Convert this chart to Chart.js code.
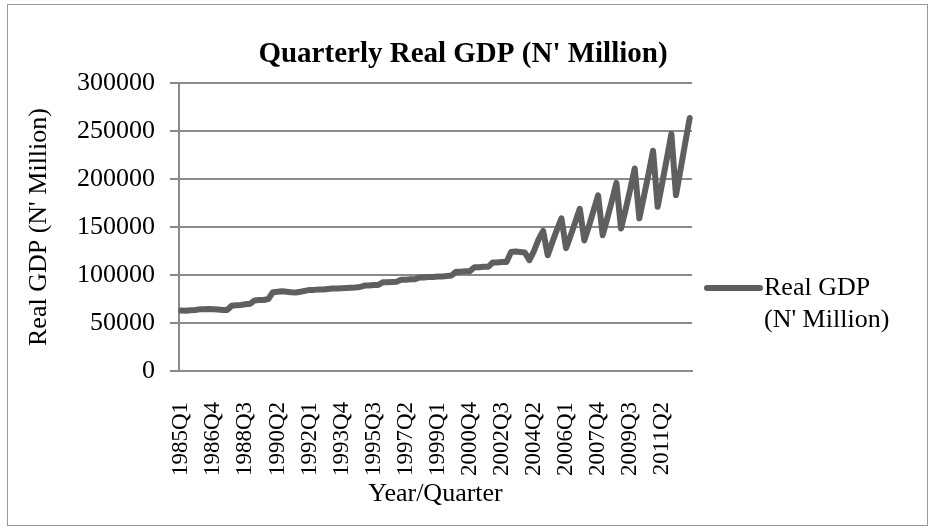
<!DOCTYPE html>
<html>
<head>
<meta charset="utf-8">
<script src="https://cdn.jsdelivr.net/npm/chart.js@4.4.0/dist/chart.umd.min.js"></script>
<style>
  body { margin: 0; background: #fff; }
  #wrap { width: 930px; height: 528px; position: relative; }
</style>
</head>
<body>
<div id="wrap"><canvas id="gdpChart" width="930" height="528"></canvas></div>
<script>
// Categories: 1985Q1 .. 2012Q4
const firstYear = 1985;
const lastYear = 2012;
const quarters = ['Q1', 'Q2', 'Q3', 'Q4'];

// Real GDP (N' Million), one row per year
const gdp1985to1994 = [
  63000, 62800, 63200, 63500,
  64200, 64300, 64500, 64400,
  64000, 63600, 63500, 68000,
  68500, 68800, 69500, 70000,
  73500, 74000, 74000, 75000,
  82000, 82500, 83000, 82500,
  82000, 81800, 82500, 83500,
  84500, 84500, 84800, 85000,
  85500, 86000, 86000, 86300,
  86500, 86800, 87000, 87500
];
const gdp1995to2003 = [
  89000, 89000, 89500, 89500,
  92500, 92500, 92800, 93000,
  95000, 95000, 95500, 95500,
  97500, 97500, 97800, 98000,
  98500, 98500, 99000, 99500,
  103500, 103500, 104000, 104000,
  108000, 108000, 108500, 108500,
  113000, 113000, 113500, 113500,
  124000, 124500, 124000, 123500
];
const gdp2004to2012 = [
  115500, 125000, 137000, 146000,
  120500, 134000, 147000, 159000,
  128000, 141000, 155000, 169000,
  136000, 151000, 167000, 183000,
  141500, 159000, 177000, 196000,
  148500, 168000, 189000, 211000,
  159000, 182000, 205000, 229500,
  171000, 196000, 221000, 247000,
  183000, 210000, 237000, 263500
];

const yTicks = [0, 50000, 100000, 150000, 200000, 250000, 300000];
const seriesName = ['Real GDP', "(N' Million)"];
const chartTitle = "Quarterly Real GDP (N' Million)";

const labels = [];
for (let y = firstYear; y <= lastYear; y++) {
  quarters.forEach(q => labels.push(y + q));
}
const values = gdp1985to1994.concat(gdp1995to2003, gdp2004to2012);

const serif = "'Liberation Serif', 'Times New Roman', serif";
const lineColor = '#5f5f5f';
const gridColor = '#8a8a8a';

// frame, title and a two-line legend like the Excel original
const decorations = {
  id: 'decorations',
  beforeDraw(chart) {
    const ctx = chart.ctx;
    ctx.save();
    ctx.strokeStyle = '#9a9a9a';
    ctx.lineWidth = 1;
    ctx.strokeRect(7.5, 4.5, 920, 521);
    ctx.restore();
  },
  afterDraw(chart) {
    const ctx = chart.ctx;
    ctx.save();
    ctx.fillStyle = '#000';
    ctx.font = 'bold 29px ' + serif;
    ctx.textAlign = 'center';
    ctx.textBaseline = 'middle';
    ctx.fillText(chartTitle, 463, 55);

    // legend
    ctx.strokeStyle = lineColor;
    ctx.lineWidth = 6;
    ctx.lineCap = 'round';
    ctx.beginPath();
    ctx.moveTo(707, 288);
    ctx.lineTo(760, 288);
    ctx.stroke();
    ctx.font = '26px ' + serif;
    ctx.textAlign = 'left';
    ctx.fillText(seriesName[0], 764, 288);
    ctx.fillText(seriesName[1], 764, 320);
    ctx.restore();
  }
};

const ctx = document.getElementById('gdpChart').getContext('2d');
new Chart(ctx, {
  type: 'line',
  data: {
    labels: labels,
    datasets: [{
      label: seriesName.join(' '),
      data: values,
      borderColor: lineColor,
      borderWidth: 6,
      borderJoinStyle: 'round',
      borderCapStyle: 'round',
      pointRadius: 0,
      tension: 0,
      fill: false
    }]
  },
  options: {
    responsive: false,
    animation: false,
    layout: { padding: { top: 83, right: 238, bottom: 0, left: 0 } },
    plugins: {
      legend: { display: false },
      title: { display: false },
      tooltip: { enabled: false }
    },
    scales: {
      x: {
        type: 'category',
        offset: true,
        grid: { display: false, drawTicks: false },
        border: { display: true, color: gridColor, width: 2 },
        ticks: {
          autoSkip: false,
          minRotation: 90,
          maxRotation: 90,
          padding: 31,
          color: '#000',
          font: { family: serif, size: 23 },
          callback: function(val, i) { return i % 7 === 0 ? this.getLabelForValue(val) : ''; }
        },
        title: {
          display: true,
          text: 'Year/Quarter',
          color: '#000',
          font: { family: serif, size: 26 },
          padding: { top: 0, bottom: 18 }
        },
        afterFit(scale) { scale.height = 157; }
      },
      y: {
        min: 0,
        max: 300000,
        afterBuildTicks(scale) { scale.ticks = yTicks.map(v => ({ value: v })); },
        grid: { color: gridColor, lineWidth: 2, tickLength: 9 },
        border: { display: true, color: gridColor, width: 2 },
        ticks: {
          padding: 15,
          color: '#000',
          font: { family: serif, size: 26 },
          callback: v => String(v)
        },
        title: {
          display: true,
          text: "Real GDP (N' Million)",
          color: '#000',
          font: { family: serif, size: 26 },
          padding: { top: 24, bottom: 0 }
        },
        afterFit(scale) { scale.width = 179; }
      }
    }
  },
  plugins: [decorations]
});
</script>
</body>
</html>
